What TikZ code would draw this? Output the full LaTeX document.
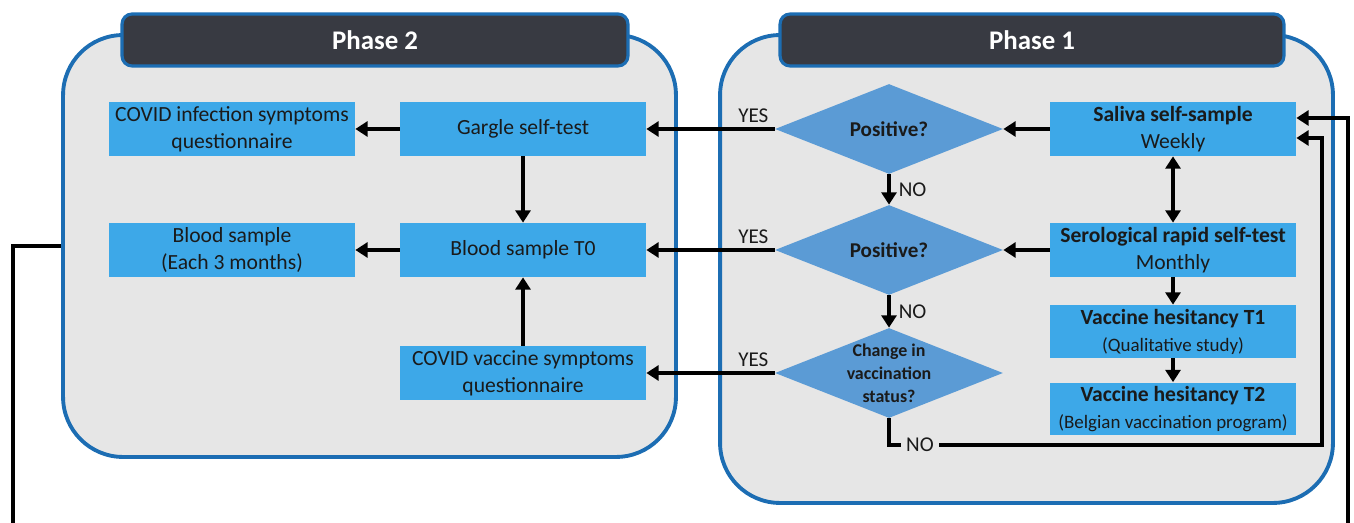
\documentclass[tikz,border=0pt]{standalone}
\usepackage{fontspec}
\setmainfont{Carlito}
\usetikzlibrary{shapes.geometric,arrows.meta}
\definecolor{boxblue}{HTML}{3DA8E8}
\definecolor{diablue}{HTML}{5B9BD5}
\definecolor{panelgray}{HTML}{E6E6E6}
\definecolor{panelrim}{HTML}{1C6DB3}
\definecolor{headdark}{HTML}{383A42}
\definecolor{inkdark}{HTML}{1A1A1A}
\tikzset{%
  panel/.style    = {rectangle, draw=panelrim, fill=panelgray, line width=2.2pt,%
                     rounded corners=1.2cm, minimum width=12.26cm},%
  phase/.style    = {rectangle, draw=panelrim, fill=headdark, line width=1.8pt,%
                     rounded corners=0.2cm, text=white, minimum height=1.04cm,%
                     font=\fontsize{15.3}{18}\selectfont\bfseries},%
  taskbox/.style  = {rectangle, fill=boxblue, text=inkdark, align=center,%
                     minimum width=4.92cm, minimum height=1.08cm, inner sep=0pt,%
                     font=\fontsize{12.3}{15.4}\selectfont},%
  test/.style     = {diamond, fill=diablue, minimum width=4.56cm,%
                     minimum height=1.8cm, inner sep=0pt},%
  qtext/.style    = {text=inkdark, align=center, inner sep=0pt,%
                     font=\fontsize{12}{13}\selectfont\bfseries},%
  answer/.style   = {text=inkdark, inner sep=2.5pt, font=\fontsize{12}{13}\selectfont},%
  link/.style     = {line width=2.2pt, draw=black}%
}
\newcommand\subnote[1]{{\fontsize{10.8}{13}\selectfont #1}}

\begin{document}
\begin{tikzpicture}
  [x=0.02cm, y=-0.02cm, >={Triangle[length=7pt,width=8.5pt]}]
  \useasboundingbox (0,0) rectangle (1354,523);
  % -------------- panels and their titles --------------------------------------
  \node[panel, minimum height=8.44cm] (P2) at (369.5,246) {};
  \node[panel, minimum height=9.36cm] (P1) at (1026.5,269) {};
  \node[phase, minimum width=10.12cm] (H2) at (375,40) {Phase 2};
  \node[phase, minimum width=10.08cm] (H1) at (1032,40) {Phase 1};
  % -------------- Phase 1 ------------------------------------------------------
  \node[taskbox] (sal) at (1173,129) {\textbf{Saliva self-sample}\\Weekly};
  \node[taskbox] (ser) at (1173,250) {\textbf{Serological rapid self-test}\\Monthly};
  \node[taskbox, minimum height=1.06cm] (vh1) at (1173,331.5)
    {\textbf{Vaccine hesitancy T1}\\\subnote{(Qualitative study)}};
  \node[taskbox, minimum height=1.06cm] (vh2) at (1173,409)
    {\textbf{Vaccine hesitancy T2}\\\subnote{(Belgian vaccination program)}};
  \node[test, label={[qtext]center:Positive?}] (D1) at (889,129) {};
  \node[test, label={[qtext]center:Positive?}] (D2) at (889,250) {};
  \node[test, label={[qtext, font=\fontsize{10.2}{13}\selectfont\bfseries]center:Change in\\vaccination\\status?}]
    (D3) at (889,373) {};
  % -------------- Phase 2 ------------------------------------------------------
  \node[taskbox] (inf) at (232,129) {COVID infection symptoms\\questionnaire};
  \node[taskbox] (gar) at (523,129) {Gargle self-test};
  \node[taskbox] (bld) at (232,250) {Blood sample\\(Each 3 months)};
  \node[taskbox] (bt0) at (523,250) {Blood sample T0};
  \node[taskbox] (vac) at (523,373) {COVID vaccine symptoms\\questionnaire};
  % -------------- arrows inside Phase 1 ----------------------------------------
  \draw[link,->] (sal.west) -- (D1.east);
  \draw[link,->] (ser.west) -- (D2.east);
  \draw[link,<->] (sal.south) -- (ser.north);
  \draw[link,->] (ser.south) -- (vh1.north);
  \draw[link,->] (vh1.south) -- (vh2.north);
  \draw[link,->] (D1.south) -- node[answer, right, xshift=2pt] {NO} (D2.north);
  \draw[link,->] (D2.south) -- node[answer, right, xshift=2pt] {NO} (D3.north);
  % -------------- YES branches into Phase 2 ------------------------------------
  \draw[link,->] (D1.west) -- node[answer, pos=0, anchor=south east] {YES} (gar.east);
  \draw[link,->] (D2.west) -- node[answer, pos=0, anchor=south east] {YES} (bt0.east);
  \draw[link,->] (D3.west) -- node[answer, pos=0, anchor=south east] {YES} (vac.east);
  % -------------- arrows inside Phase 2 ----------------------------------------
  \draw[link,->] (gar.west) -- (inf.east);
  \draw[link,->] (bt0.west) -- (bld.east);
  \draw[link,->] (gar.south) -- (bt0.north);
  \draw[link,->] (vac.north) -- (bt0.south);
  % -------------- loops back to the saliva sample ------------------------------
  \node[answer, inner sep=3pt] (no3) at (920,445) {NO};
  \coordinate (back) at (1322,445);
  \coordinate (rgt) at (1348,523);
  \coordinate (lft) at (13,523);
  \draw[link] (D3.south) |- (no3.west);
  \draw[link,->] (no3.east) -- (back) |- ([yshift=-0.18cm]sal.east);
  \draw[link,->] (rgt) |- ([yshift=0.22cm]sal.east);
  \draw[link] (P2.west) -| (lft);
\end{tikzpicture}
\end{document}
